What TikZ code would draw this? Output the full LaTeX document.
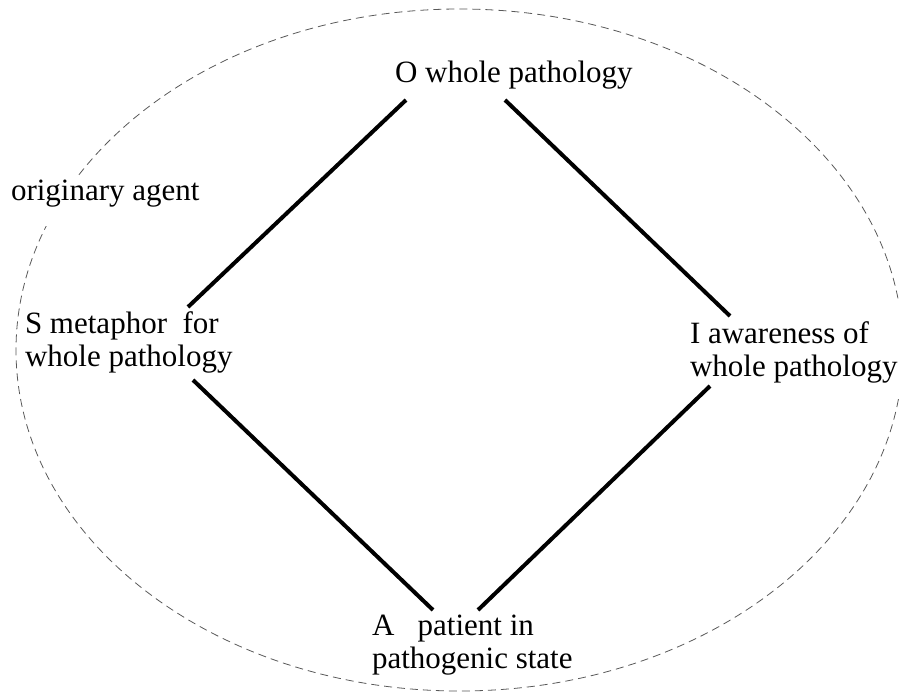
\documentclass[tikz,border=0pt]{standalone}
\usepackage{fontspec}
\setmainfont{Liberation Serif}
\begin{document}
\begin{tikzpicture}[x=1pt,y=-1pt,
  lbl/.style={inner sep=0pt, outer sep=0pt, font=\fontsize{31}{33}\selectfont, text=black},
  edge/.style={line width=4pt, black},
  halo/.style={dash pattern=on 8pt off 5pt, line width=0.8pt, draw=black!65}]
\useasboundingbox (0,0) rectangle (899,693);
\clip (0,0) rectangle (899,693);
\draw[halo] (459.5,350) ellipse [x radius=443.5pt, y radius=341pt];
\fill[white] (688,299) rectangle (899,399);
\node[lbl, anchor=base west] (O) at (395,82) {O whole pathology};
\node[lbl, anchor=base west, fill=white, text height=24pt, text depth=26pt] (G) at (11,200) {originary agent};
\node[lbl, anchor=north west, align=left] (S) at (25,311.8) {S metaphor\ \ for\\whole pathology};
\node[lbl, anchor=north west, align=left] (I) at (690,321.8) {I awareness of\\whole pathology};
\node[lbl, anchor=north west, align=left] (A) at (372,614.8) {A\ \ \ patient in\\pathogenic state};
\draw[edge] ([xshift=11pt,yshift=-18pt]O.base west) -- ([xshift=163pt,yshift=4.8pt]S.north west);
\draw[edge] ([xshift=110pt,yshift=-18pt]O.base west) -- ([xshift=40pt,yshift=5.8pt]I.north west);
\draw[edge] ([xshift=168pt,yshift=-68.2pt]S.north west) -- ([xshift=61pt,yshift=4.8pt]A.north west);
\draw[edge] ([xshift=20pt,yshift=-64.2pt]I.north west) -- ([xshift=106pt,yshift=4.8pt]A.north west);
\end{tikzpicture}
\end{document}
